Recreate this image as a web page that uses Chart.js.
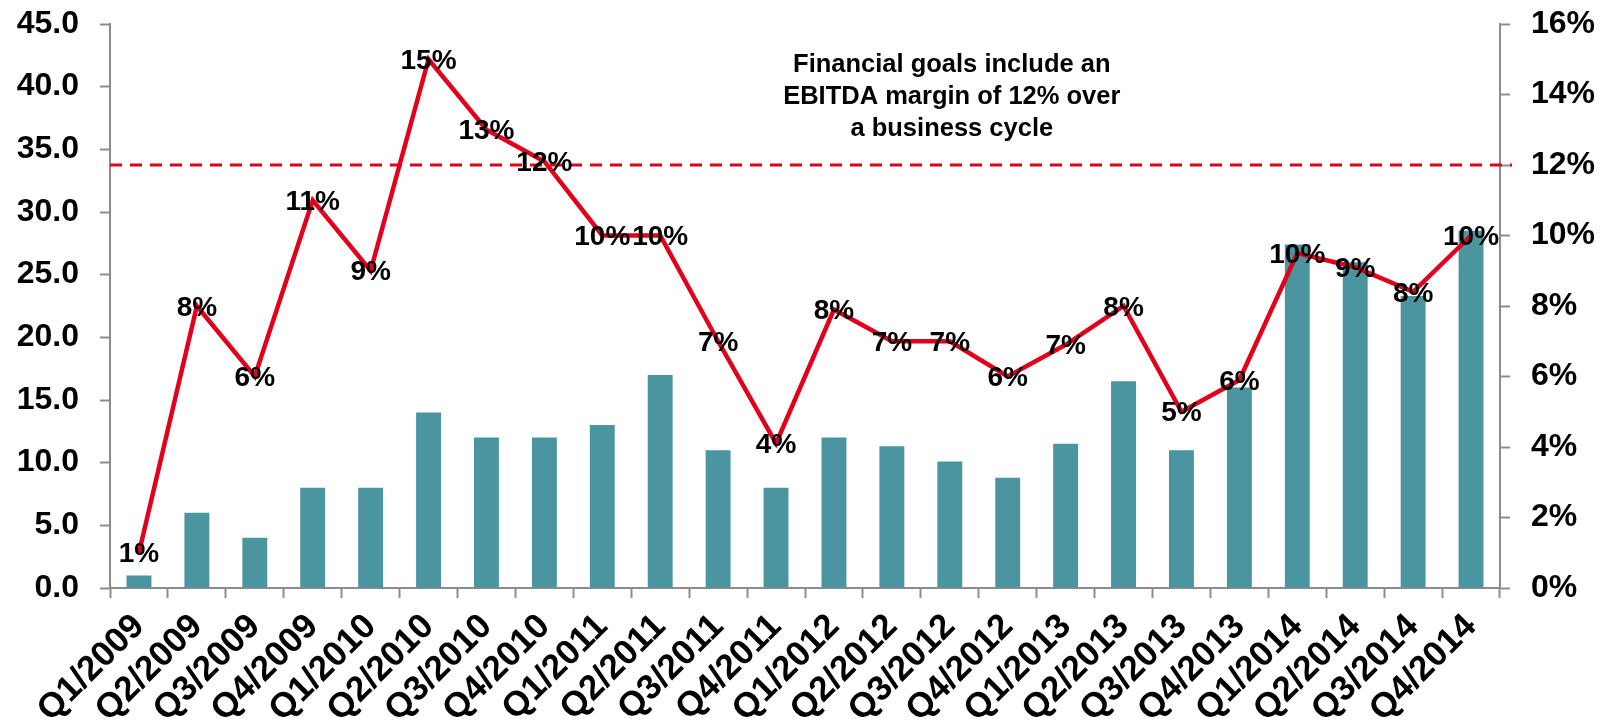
<!DOCTYPE html>
<html>
<head>
<meta charset="utf-8">
<script src="https://cdn.jsdelivr.net/npm/chart.js@4"></script>
<style>
  body { margin: 0; background: #fff; }
  #wrap { width: 1614px; height: 725px; }
</style>
</head>
<body>
<div id="wrap"><canvas id="ebitda" width="1614" height="725"></canvas></div>
<script>
// quarters on the x axis
const quarters = ['Q1/2009','Q2/2009','Q3/2009','Q4/2009',
                  'Q1/2010','Q2/2010','Q3/2010','Q4/2010',
                  'Q1/2011','Q2/2011','Q3/2011','Q4/2011',
                  'Q1/2012','Q2/2012','Q3/2012','Q4/2012',
                  'Q1/2013','Q2/2013','Q3/2013','Q4/2013',
                  'Q1/2014','Q2/2014','Q3/2014','Q4/2014'];
// EBITDA (left axis)
const ebitda = [1.0, 6.0, 4.0, 8.0, 8.0, 14.0, 12.0, 12.0, 13.0, 17.0, 11.0, 8.0,
                12.0, 11.3, 10.1, 8.8, 11.5, 16.5, 11.0, 16.0, 27.4, 26.0, 23.3, 28.5];
// EBITDA margin in % (right axis)
const margin = [1.0, 8.0, 6.0, 11.0, 9.0, 15.0, 13.0, 12.1, 10.0, 10.0, 7.0, 4.1,
                7.9, 7.0, 7.0, 6.0, 6.9, 8.0, 5.0, 5.9, 9.5, 9.1, 8.4, 10.0];
const goal = 12;
const noteLines = ['Financial goals include an', 'EBITDA margin of 12% over', 'a business cycle'];

const red = '#e2001a';
const teal = '#4a959f';
const axisGrey = '#8c8c8c';

Chart.defaults.font.family = "'Liberation Sans', Arial, sans-serif";
Chart.defaults.font.weight = 'bold';
Chart.defaults.color = '#000';

// dashed goal line + note text, drawn under the series
const goalLine = {
    id: 'goalLine',
    beforeDatasetsDraw(chart) {
        const {ctx, chartArea} = chart;
        const y = chart.scales.y1.getPixelForValue(goal);
        ctx.save();
        ctx.strokeStyle = red;
        ctx.lineWidth = 3;
        ctx.setLineDash([12, 8]);
        ctx.beginPath();
        ctx.moveTo(chartArea.left, y);
        ctx.lineTo(chartArea.right + 12, y);
        ctx.stroke();
        ctx.setLineDash([]);
        ctx.font = "bold 25.5px 'Liberation Sans', Arial, sans-serif";
        ctx.fillStyle = '#000';
        ctx.textAlign = 'center';
        ctx.textBaseline = 'alphabetic';
        const cx = chart.scales.x.getPixelForValue(14) + 2;
        noteLines.forEach((t, i) => ctx.fillText(t, cx, 72 + i * 32));
        ctx.restore();
    }
};

// percentage labels centred on the line points
const marginLabels = {
    id: 'marginLabels',
    afterDatasetsDraw(chart) {
        const {ctx} = chart;
        const meta = chart.getDatasetMeta(0);
        ctx.save();
        ctx.font = "bold 28px 'Liberation Sans', Arial, sans-serif";
        ctx.fillStyle = '#000';
        ctx.textAlign = 'center';
        ctx.textBaseline = 'middle';
        meta.data.forEach((pt, i) => {
            ctx.fillText(Math.round(margin[i]) + '%', pt.x, pt.y + 2);
        });
        ctx.restore();
    }
};

const fixVertical = w => s => {
    s.width = w;
    s.paddingTop = 0;
    s.paddingBottom = 0;
};

new Chart(document.getElementById('ebitda').getContext('2d'), {
    data: {
        labels: quarters,
        datasets: [{
            type: 'line',
            data: margin,
            yAxisID: 'y1',
            borderColor: red,
            borderWidth: 4.5,
            pointRadius: 0,
            tension: 0,
            order: 0
        }, {
            type: 'bar',
            data: ebitda,
            yAxisID: 'y',
            backgroundColor: teal,
            barPercentage: 0.43,
            categoryPercentage: 1,
            order: 1
        }]
    },
    options: {
        responsive: false,
        animation: false,
        layout: { padding: { top: 24, left: 0, right: 0, bottom: 0 } },
        plugins: {
            legend: { display: false },
            tooltip: { enabled: false }
        },
        scales: {
            x: {
                offset: true,
                grid: { offset: true, drawOnChartArea: false, tickLength: 10, tickColor: axisGrey, tickWidth: 2 },
                border: { color: axisGrey, width: 2 },
                ticks: { autoSkip: false, maxRotation: 45, minRotation: 45, padding: 8, font: { size: 35 } },
                afterFit: s => { s.height = 137; }
            },
            y: {
                position: 'left',
                min: 0,
                max: 45,
                grid: { drawOnChartArea: false, tickLength: 10, tickColor: axisGrey, tickWidth: 2 },
                border: { color: axisGrey, width: 2 },
                ticks: { stepSize: 5, padding: 21, font: { size: 32 }, callback: v => v.toFixed(1) },
                afterFit: fixVertical(110)
            },
            y1: {
                position: 'right',
                min: 0,
                max: 16,
                grid: { drawOnChartArea: false, tickLength: 10, tickColor: axisGrey, tickWidth: 2 },
                border: { color: axisGrey, width: 2 },
                ticks: { stepSize: 2, padding: 21, font: { size: 32 }, callback: v => v + '%' },
                afterFit: fixVertical(114)
            }
        }
    },
    plugins: [goalLine, marginLabels]
});
</script>
</body>
</html>
